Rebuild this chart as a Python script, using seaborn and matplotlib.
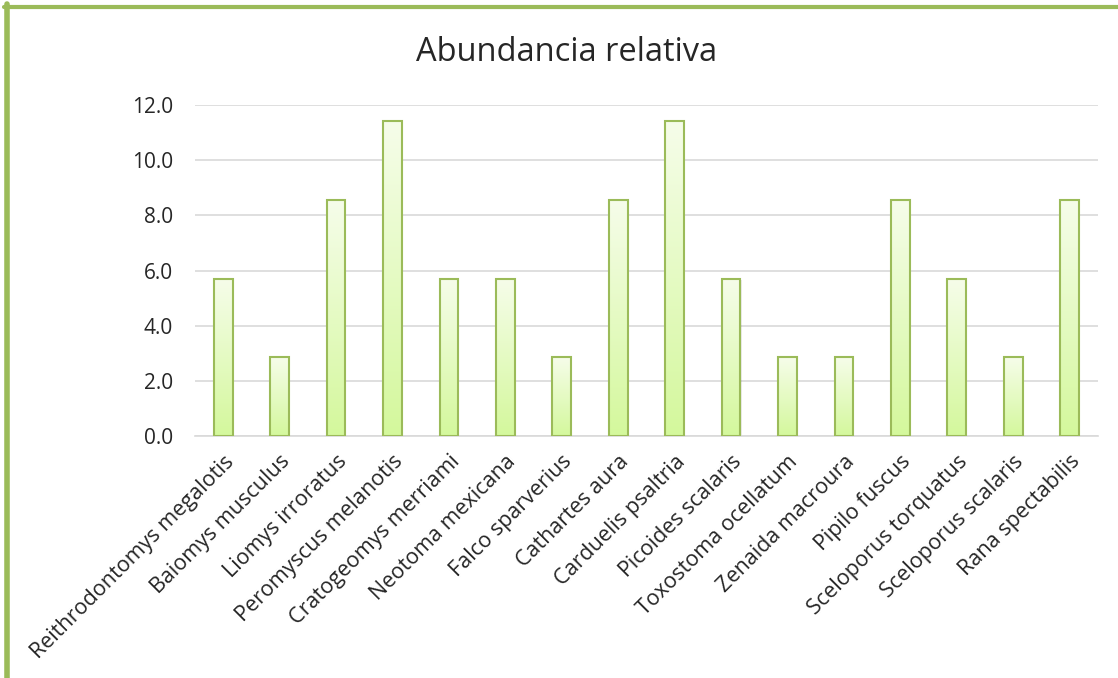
import numpy as np
import pandas as pd
import seaborn as sns
import matplotlib.pyplot as plt
from matplotlib.colors import LinearSegmentedColormap
from matplotlib.lines import Line2D

# datos
especies = ["Reithrodontomys megalotis", "Baiomys musculus", "Liomys irroratus",
            "Peromyscus melanotis", "Cratogeomys merriami", "Neotoma mexicana",
            "Falco sparverius", "Cathartes aura", "Carduelis psaltria",
            "Picoides scalaris", "Toxostoma ocellatum", "Zenaida macroura",
            "Pipilo fuscus", "Sceloporus torquatus", "Sceloporus scalaris",
            "Rana spectabilis"]
abundancia = [5.71, 2.86, 8.57, 11.43, 5.71, 5.71, 2.86, 8.57, 11.43, 5.71,
              2.86, 2.86, 8.57, 5.71, 2.86, 8.57]
y_ticks = [0, 2, 4, 6, 8, 10, 12]

df = pd.DataFrame({"especie": especies, "abundancia": abundancia})

sns.set_style("white")
plt.rcParams['font.family'] = ['Open Sans', 'DejaVu Sans']

fig = plt.figure(figsize=(11.18, 6.78), dpi=100)
ax = fig.add_axes([0.1744, 0.357, 0.8076, 0.488])

borde = "#9bbb59"
sns.barplot(data=df, x="especie", y="abundancia", ax=ax, width=0.33,
            color="white", edgecolor=borde, linewidth=1.5, zorder=3)

# relleno degradado dentro de cada barra
cmap = LinearSegmentedColormap.from_list("verde", ["#d4f89c", "#f6fdea"])
grad = np.linspace(0, 1, 256).reshape(-1, 1)
for p in ax.patches:
    x0, y0 = p.get_x(), p.get_y()
    w, h = p.get_width(), p.get_height()
    # sombra suave
    sh = plt.Rectangle((x0 + 0.02, y0), w, h - 0.05, facecolor="#000000",
                       alpha=0.08, zorder=2, linewidth=0)
    ax.add_patch(sh)
    im = ax.imshow(grad, extent=(x0, x0 + w, y0, y0 + h), origin="lower",
                   cmap=cmap, aspect="auto", zorder=3.5)
    im.set_clip_path(p)
    p.set_zorder(4)
    p.set_facecolor("none")

ax.set_xlim(-0.5, len(especies) - 0.5)
ax.set_ylim(0, 12)
ax.set_yticks(y_ticks)
ax.set_yticklabels([f"{v:.1f}" for v in y_ticks], fontsize=15)
ax.yaxis.grid(True, color="#d9d9d9", linewidth=1.2, zorder=0)
ax.set_axisbelow(True)
for s in ["top", "right", "left"]:
    ax.spines[s].set_visible(False)
ax.spines["bottom"].set_color("#d9d9d9")
ax.spines["bottom"].set_linewidth(1.2)
ax.tick_params(axis="y", length=0, pad=16)
ax.tick_params(axis="x", length=0, pad=11)
ax.set_xticks(range(len(especies)))
ax.set_xticklabels(especies, rotation=45, ha="right", rotation_mode="anchor",
                   fontsize=15.5)
ax.set_xlabel("")
ax.set_ylabel("")

fig.text(0.507, 0.923, "Abundancia relativa", ha="center", va="center", fontsize=23.5)

# marco verde (izquierda y arriba)
fig.add_artist(Line2D([6.5 / 1118, 6.5 / 1118], [0, 1 - 4 / 678],
                      transform=fig.transFigure, color=borde, linewidth=4))
fig.add_artist(Line2D([4 / 1118, 1], [1 - 6.5 / 678, 1 - 6.5 / 678],
                      transform=fig.transFigure, color=borde, linewidth=3))

plt.savefig("out.png", dpi=100)
plt.close()
